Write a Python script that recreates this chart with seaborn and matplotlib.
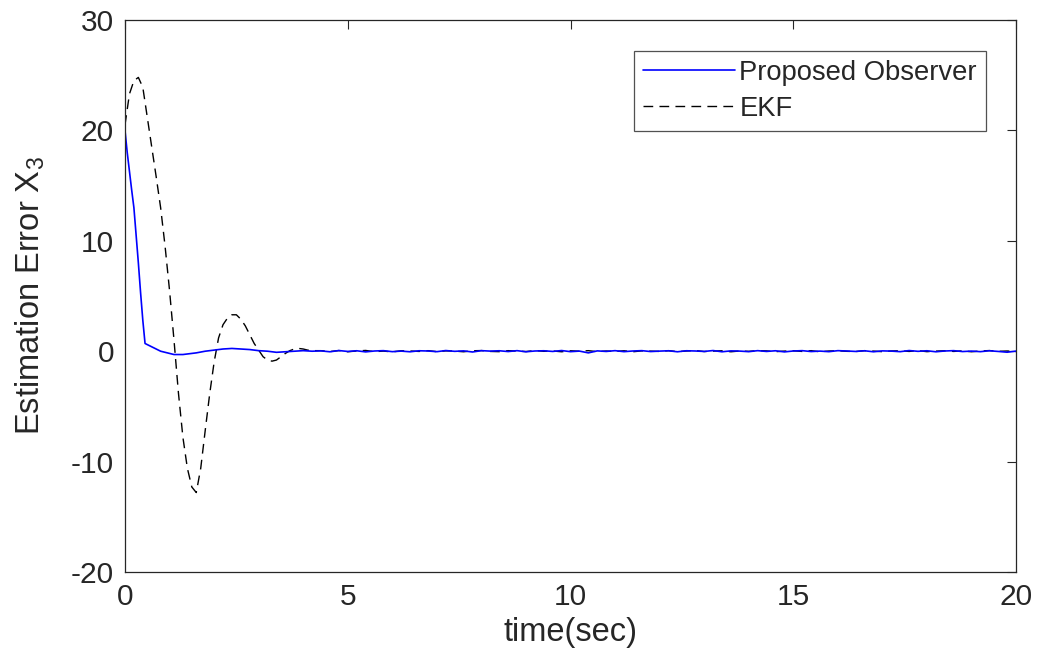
import numpy as np
import pandas as pd
import matplotlib
matplotlib.use("Agg")
import matplotlib.pyplot as plt
import seaborn as sns

# ---- data ----
obs_t_head = [0.0, 0.05, 0.1, 0.15, 0.2, 0.25, 0.3, 0.35, 0.4, 0.45, 0.5, 0.6, 0.7, 0.8, 0.9,
              1.0, 1.1, 1.2, 1.3, 1.4, 1.6, 1.8, 2.0, 2.2, 2.4, 2.6, 2.8, 3.0, 3.2, 3.4,
              3.6, 3.8, 4.0, 4.2]
obs_y_head = [20.0, 18.0, 16.3, 14.6, 13.0, 10.5, 8.0, 5.3, 2.8, 0.7, 0.6, 0.4, 0.2, 0.0, -0.1,
              -0.2, -0.3, -0.3, -0.3, -0.25, -0.15, 0.0, 0.1, 0.2, 0.25, 0.2, 0.15, 0.05, 0.0, -0.1,
              -0.05, 0.0, 0.05, 0.0]

ekf_t_head = [0.0, 0.1, 0.2, 0.3, 0.4, 0.5, 0.6, 0.7, 0.8, 0.9, 1.0, 1.1, 1.2, 1.3, 1.4,
              1.5, 1.6, 1.7, 1.8, 1.9, 2.0, 2.1, 2.2, 2.3, 2.4, 2.5, 2.6, 2.7, 2.8, 2.9,
              3.0, 3.1, 3.2, 3.3, 3.4, 3.5, 3.6, 3.7, 3.8, 3.9, 4.0, 4.1, 4.2]
ekf_y_head = [20.5, 23.3, 24.5, 24.8, 23.9, 21.2, 18.5, 15.8, 13.0, 9.5, 5.5, 1.0, -3.8, -7.8, -10.6,
              -12.3, -12.8, -10.6, -7.2, -3.9, -1.0, 1.2, 2.4, 3.0, 3.3, 3.3, 2.9, 2.3, 1.5, 0.7,
              0.1, -0.5, -0.8, -0.9, -0.8, -0.5, -0.2, 0.05, 0.2, 0.25, 0.2, 0.1, 0.05]

tail_t = np.round(np.arange(4.4, 20.0001, 0.2), 2)
obs_y_tail = [0.03, -0.05, 0.06, -0.02, 0.04, -0.06, 0.02, 0.05, -0.04, 0.01,
              -0.05, 0.04, 0.02, -0.04, 0.06, -0.01, 0.03, -0.07, 0.05, 0.01,
              0.04, -0.03, 0.05, -0.05, 0.02, 0.04, -0.02, 0.06, -0.04, 0.01,
              -0.15, 0.03, -0.02, 0.05, -0.04, 0.02, 0.05, -0.03, 0.01, 0.04,
              -0.05, 0.04, 0.02, -0.02, 0.06, -0.05, 0.03, 0.01, -0.04, 0.05,
              -0.02, 0.04, -0.06, 0.02, 0.05, -0.03, 0.01, -0.04, 0.05, 0.02,
              -0.02, 0.04, -0.05, 0.03, 0.01, -0.04, 0.06, -0.01, 0.04, -0.05,
              0.02, 0.05, -0.03, 0.01, -0.04, 0.04, -0.02, -0.09, 0.01]
ekf_y_tail = [0.05, -0.03, 0.06, -0.05, 0.02, 0.07, -0.04, 0.01, -0.06, 0.04,
              0.02, -0.02, 0.05, -0.04, 0.03, 0.01, -0.05, 0.04, 0.06, -0.02,
              -0.04, 0.05, 0.01, -0.03, 0.06, -0.01, 0.02, -0.05, 0.04, 0.00,
              0.05, -0.04, 0.02, -0.02, 0.04, -0.05, 0.03, 0.01, -0.02, 0.05,
              -0.04, 0.02, 0.06, -0.03, 0.01, 0.04, -0.05, 0.02, -0.01, 0.05,
              0.03, -0.04, 0.01, 0.04, -0.02, 0.05, -0.05, 0.02, 0.04, -0.01,
              -0.03, 0.05, 0.01, -0.04, 0.02, 0.04, -0.02, 0.05, -0.04, 0.01,
              0.04, -0.02, 0.03, -0.05, 0.02, 0.06, -0.01, 0.02, -0.04]

x_ticks = [0, 5, 10, 15, 20]
y_ticks = [-20, -10, 0, 10, 20, 30]
series_names = ["Proposed Observer", "EKF"]

obs = pd.DataFrame({"t": list(obs_t_head) + list(tail_t), "err": list(obs_y_head) + list(obs_y_tail)})
ekf = pd.DataFrame({"t": list(ekf_t_head) + list(tail_t), "err": list(ekf_y_head) + list(ekf_y_tail)})

# ---- styling ----
sns.set_style("white")
plt.rcParams["font.family"] = ["Liberation Sans", "DejaVu Sans"]
plt.rcParams["mathtext.fontset"] = "custom"
plt.rcParams["mathtext.rm"] = "Liberation Sans"
plt.rcParams["axes.unicode_minus"] = False

fig = plt.figure(figsize=(10.39, 6.71), dpi=100)
ax = fig.add_axes([0.1203, 0.1475, 0.8576, 0.8227])

sns.lineplot(data=ekf, x="t", y="err", ax=ax, color="black", lw=1.0,
             estimator=None, sort=False, label=series_names[1])
sns.lineplot(data=obs, x="t", y="err", ax=ax, color="#0000ff", lw=1.2,
             estimator=None, sort=False, label=series_names[0])
ekf_line, obs_line = ax.lines[0], ax.lines[1]
ekf_line.set_dashes((7, 4.5))

ax.set_xlim(0, 20)
ax.set_ylim(-20, 30)
ax.set_xticks(x_ticks)
ax.set_yticks(y_ticks)
tick_color = "#262626"
ax.tick_params(direction="in", top=True, right=True, length=6.5, width=0.8,
               labelsize=21.5, colors=tick_color, pad=8)
for s in ax.spines.values():
    s.set_color(tick_color)
    s.set_linewidth(0.9)

ax.set_xlabel("time(sec)", fontsize=23.5, color=tick_color, labelpad=4)
ax.set_ylabel(r"Estimation Error X$_{\mathregular{3}}$", fontsize=23.5, color=tick_color, labelpad=17)

leg = ax.legend([obs_line, ekf_line], series_names,
                loc="upper right", bbox_to_anchor=(0.966, 0.944), borderaxespad=0,
                fontsize=19.7, frameon=True, fancybox=False, handlelength=3.36,
                handletextpad=0.18, borderpad=0.32, labelspacing=0.38)
leg.get_frame().set_edgecolor(tick_color)
leg.get_frame().set_linewidth(0.9)
for t in leg.get_texts():
    t.set_color(tick_color)

fig.savefig("out.png", dpi=100)
